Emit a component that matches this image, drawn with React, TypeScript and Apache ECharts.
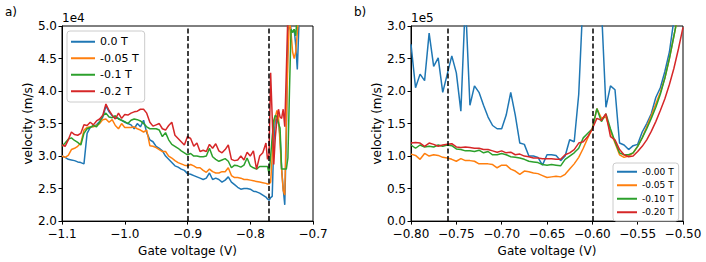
import React, { useEffect, useRef } from 'react';
import * as echarts from 'echarts';

// ---- Panel a): velocity in units of 1e4 m/s ----
const leftVoltage = [
  -1.100, -1.095, -1.090, -1.085, -1.080, -1.075, -1.070, -1.065, -1.060, -1.055,
  -1.050, -1.045, -1.040, -1.035, -1.030, -1.025, -1.020, -1.015, -1.010, -1.005,
  -1.000, -0.995, -0.990, -0.985, -0.980, -0.975, -0.970, -0.965, -0.960, -0.955,
  -0.950, -0.945, -0.940, -0.935, -0.930, -0.925, -0.920, -0.915, -0.910, -0.905,
  -0.900, -0.895, -0.890, -0.885, -0.880, -0.875, -0.870, -0.865, -0.860, -0.855,
  -0.850, -0.845, -0.840, -0.835, -0.830, -0.825, -0.820, -0.815, -0.810, -0.805,
  -0.800, -0.795, -0.790, -0.785, -0.780, -0.775, -0.7725, -0.770,
  -0.7675, -0.765, -0.7625, -0.760, -0.7575, -0.755, -0.7525, -0.750, -0.7475, -0.745,
  -0.7425, -0.740, -0.7375, -0.735, -0.7325, -0.730, -0.7275, -0.725, -0.7225, -0.720, -0.7175,
];
const leftB0 = [
  3.00, 2.98, 2.95, 2.94, 2.93, 2.91, 2.90, 2.88, 3.35, 3.44,
  3.46, 3.48, 3.53, 3.60, 3.77, 3.68, 3.62, 3.58, 3.58, 3.55,
  3.52, 3.50, 3.48, 3.42, 3.50, 3.45, 3.55, 3.36, 3.25, 3.22,
  3.15, 3.12, 3.08, 3.00, 2.95, 2.90, 2.85, 2.83, 2.80, 2.78,
  2.73, 2.72, 2.70, 2.68, 2.66, 2.64, 2.66, 2.74, 2.64, 2.66,
  2.64, 2.60, 2.63, 2.68, 2.60, 2.56, 2.52, 2.49, 2.50, 2.50,
  2.49, 2.46, 2.45, 2.43, 2.40, 2.37, 2.34, 2.32,
  2.36, 2.38, 3.20, 3.58, 3.55, 3.52, 3.30, 2.80, 2.50, 2.25,
  3.30, 4.90, 5.10, 4.95, 4.90, 4.95, 4.70, 4.33, 5.00, 5.50, 5.80,
];
const leftB005 = [
  3.00, 2.98, 3.01, 3.10, 3.12, 3.15, 3.20, 3.40, 3.44, 3.45,
  3.45, 3.47, 3.50, 3.56, 3.57, 3.52, 3.56, 3.47, 3.42, 3.50,
  3.44, 3.44, 3.44, 3.45, 3.42, 3.40, 3.37, 3.40, 3.16, 3.15,
  3.13, 3.10, 3.07, 3.07, 3.00, 2.97, 2.93, 2.90, 2.88, 2.86,
  2.85, 2.87, 2.85, 2.82, 2.82, 2.78, 2.75, 2.80, 2.76, 2.74,
  2.74, 2.76, 2.76, 2.82, 2.70, 2.67, 2.67, 2.66, 2.64, 2.64,
  2.63, 2.62, 2.61, 2.60, 2.59, 2.58, 2.57, 2.57,
  2.60, 3.00, 3.50, 3.60, 3.70, 3.60, 3.20, 2.80, 2.47, 2.40,
  3.50, 4.50, 5.10, 4.90, 4.60, 4.50, 4.60, 4.90, 5.20, 5.50, 5.80,
];
const leftB01 = [
  3.15, 3.20, 3.26, 3.28, 3.24, 3.21, 3.17, 3.35, 3.42, 3.44,
  3.47, 3.45, 3.52, 3.62, 3.66, 3.60, 3.59, 3.62, 3.57, 3.55,
  3.53, 3.50, 3.55, 3.57, 3.56, 3.54, 3.50, 3.45, 3.42, 3.42,
  3.42, 3.40, 3.30, 3.36, 3.25, 3.18, 3.15, 3.12, 3.08, 3.05,
  3.02, 3.04, 3.00, 3.00, 2.99, 2.99, 3.00, 3.12, 2.99, 2.95,
  2.92, 2.94, 2.96, 2.92, 2.82, 2.86, 2.85, 2.83, 2.86, 2.97,
  2.85, 2.82, 2.80, 2.84, 2.84, 2.84, 2.84, 2.73,
  3.00, 3.30, 3.55, 3.63, 3.60, 3.50, 3.43, 2.80, 2.80, 2.80,
  2.80, 2.97, 4.00, 4.95, 4.90, 4.95, 4.85, 5.20, 5.50, 5.80, 6.00,
];
const leftB02 = [
  3.17, 3.15, 3.25, 3.37, 3.33, 3.32, 3.35, 3.48, 3.47, 3.52,
  3.48, 3.54, 3.57, 3.63, 3.80, 3.70, 3.63, 3.57, 3.66, 3.58,
  3.64, 3.63, 3.66, 3.68, 3.69, 3.72, 3.72, 3.66, 3.52, 3.46,
  3.48, 3.50, 3.42, 3.40, 3.47, 3.52, 3.32, 3.27, 3.22, 3.17,
  3.30, 3.27, 3.15, 3.20, 3.07, 3.09, 3.07, 3.18, 3.12, 3.19,
  3.08, 3.05, 3.10, 3.17, 2.95, 2.93, 2.94, 3.00, 2.94, 3.06,
  3.00, 3.08, 2.80, 3.00, 3.05, 3.20, 2.95, 3.02,
  4.28, 3.60, 2.87, 3.30, 3.55, 3.72, 3.60, 3.58, 3.72, 3.45,
  4.30, 5.20, 5.50, 5.40, 5.30, 5.50, 5.60, 5.70, 5.80, 5.90, 6.00,
];
const leftNames = ['0.0 T', '-0.05 T', '-0.1 T', '-0.2 T'];
const leftDashed = [-0.9, -0.77];
const leftXTicks = { min: -1.1, max: -0.7, step: 0.1 };
const leftYTicks = { min: 2.0, max: 5.0, step: 0.5 };

// ---- Panel b): velocity in units of 1e5 m/s ----
const rightVoltage = [
  -0.800, -0.795, -0.790, -0.785, -0.780, -0.775, -0.770, -0.765, -0.760, -0.755,
  -0.750, -0.745, -0.740, -0.735, -0.730, -0.725, -0.720, -0.715, -0.710, -0.705,
  -0.700, -0.695, -0.690, -0.685, -0.680, -0.675, -0.670, -0.665, -0.660, -0.655,
  -0.650, -0.645, -0.640, -0.635, -0.630, -0.625, -0.620, -0.615, -0.610, -0.605,
  -0.600, -0.595, -0.590, -0.585, -0.580, -0.575, -0.570, -0.565, -0.560, -0.555,
  -0.550, -0.545, -0.540, -0.535, -0.530, -0.525, -0.520, -0.515, -0.510, -0.505,
  -0.500,
];
const rightB000 = [
  2.72, 2.05, 2.26, 2.16, 2.89, 2.38, 2.51, 1.98, 2.26, 2.54,
  2.28, 1.69, 3.40, 1.78, 2.08, 1.98, 1.78, 1.60, 1.47, 1.42,
  1.42, 1.63, 1.98, 1.63, 1.20, 1.18, 1.00, 1.00, 0.98, 0.86,
  1.02, 1.02, 1.01, 0.93, 1.00, 1.25, 1.22, 1.95, 3.50, 5.00,
  6.00, 5.00, 3.30, 1.75, 2.08, 2.02, 1.20, 1.17, 1.10, 1.16,
  1.18, 1.37, 1.50, 1.65, 1.90, 2.05, 2.30, 2.60, 3.10, 3.60,
  4.00,
];
const rightB005 = [
  1.03, 1.01, 0.95, 1.04, 1.00, 1.02, 1.01, 0.98, 0.97, 0.95,
  0.92, 0.96, 0.93, 0.93, 0.92, 0.88, 0.88, 0.88, 0.87, 0.82,
  0.86, 0.86, 0.80, 0.77, 0.72, 0.77, 0.76, 0.74, 0.73, 0.70,
  0.67, 0.68, 0.69, 0.68, 0.72, 0.80, 0.88, 0.98, 1.12, 1.28,
  1.42, 1.73, 1.58, 1.60, 1.38, 1.20, 1.02, 0.98, 1.00, 1.05,
  1.15, 1.28, 1.45, 1.62, 1.80, 1.98, 2.20, 2.50, 2.85, 3.20,
  3.50,
];
const rightB010 = [
  1.17, 1.12, 1.17, 1.14, 1.15, 1.14, 1.17, 1.15, 1.17, 1.16,
  1.11, 1.10, 1.08, 1.08, 1.07, 1.09, 1.05, 1.07, 1.02, 1.02,
  1.04, 1.02, 0.99, 0.98, 0.97, 0.95, 0.92, 0.91, 0.90, 0.87,
  0.86, 0.87, 0.86, 0.85, 0.95, 1.00, 1.05, 1.12, 1.28, 1.35,
  1.42, 1.73, 1.53, 1.65, 1.42, 1.22, 1.05, 1.02, 1.02, 1.05,
  1.15, 1.28, 1.42, 1.58, 1.75, 1.95, 2.20, 2.50, 2.85, 3.20,
  3.50,
];
const rightB020 = [
  1.20, 1.21, 1.20, 1.15, 1.20, 1.18, 1.15, 1.17, 1.18, 1.19,
  1.14, 1.13, 1.14, 1.13, 1.12, 1.12, 1.10, 1.10, 1.08, 1.06,
  1.08, 1.05, 1.06, 1.02, 1.03, 1.00, 0.99, 0.97, 0.97, 0.96,
  0.96, 0.96, 0.95, 0.95, 1.02, 1.05, 1.10, 1.20, 1.22, 1.30,
  1.42, 1.58, 1.55, 1.65, 1.30, 1.25, 1.10, 1.02, 0.99, 1.00,
  1.07, 1.15, 1.25, 1.38, 1.53, 1.70, 1.88, 2.10, 2.35, 2.65,
  2.98,
];
const rightNames = ['-0.00 T', '-0.05 T', '-0.10 T', '-0.20 T'];
const rightDashed = [-0.755, -0.6];
const rightXTicks = { min: -0.8, max: -0.5, step: 0.05 };
const rightYTicks = { min: 0.0, max: 3.0, step: 0.5 };

const COLORS = ['#1f77b4', '#ff7f0e', '#2ca02c', '#d62728'];
const FONT = 'DejaVu Sans';

const pairs = (xs: number[], ys: number[]) => xs.map((x, i) => [x, ys[i]]);
const fmt = (d: number) => (v: number) => {
  const s = v.toFixed(d);
  return s.startsWith('-') ? '\u2212' + s.slice(1) : s;
};

function xAxisCfg(gridIndex: number, t: { min: number; max: number; step: number }, dec: number) {
  return {
    type: 'value', gridIndex, min: t.min, max: t.max, interval: t.step,
    name: 'Gate voltage (V)', nameLocation: 'middle', nameGap: 20,
    nameTextStyle: { fontFamily: FONT, fontSize: 12, color: '#000' },
    axisLine: { show: true, onZero: false, lineStyle: { color: '#000', width: 1 } },
    axisTick: { show: true, length: 3.5, lineStyle: { color: '#000', width: 1 } },
    axisLabel: { formatter: fmt(dec), fontFamily: FONT, fontSize: 12, color: '#000', margin: 7, lineHeight: 12 },
    splitLine: { show: false },
  };
}
function yAxisCfg(gridIndex: number, t: { min: number; max: number; step: number }) {
  return {
    type: 'value', gridIndex, min: t.min, max: t.max, interval: t.step,
    name: 'velocity (m/s)', nameLocation: 'middle', nameGap: 28, nameRotate: 90,
    nameTextStyle: { fontFamily: FONT, fontSize: 12, color: '#000' },
    axisLine: { show: true, onZero: false, lineStyle: { color: '#000', width: 1 } },
    axisTick: { show: true, length: 3.5, lineStyle: { color: '#000', width: 1 } },
    axisLabel: { formatter: fmt(1), fontFamily: FONT, fontSize: 12, color: '#000', margin: 5, lineHeight: 11 },
    splitLine: { show: false },
  };
}

function lineSeries(name: string, data: number[][], idx: number, color: string, dashed?: number[]) {
  const s: any = {
    type: 'line', name, data, xAxisIndex: idx, yAxisIndex: idx,
    showSymbol: false, symbol: 'none', clip: true,
    lineStyle: { color, width: 1.5 }, itemStyle: { color },
  };
  if (dashed) {
    s.markLine = {
      silent: true, symbol: ['none', 'none'], label: { show: false },
      lineStyle: { color: '#000', width: 1.5, type: [5, 2.5] },
      data: dashed.map((v) => ({ xAxis: v })),
    };
  }
  return s;
}

export default function App() {
  const ref = useRef<HTMLDivElement>(null);
  useEffect(() => {
    if (!ref.current) return;
    const chart = echarts.init(ref.current, undefined, { renderer: 'svg' });
    const leftData = [leftB0, leftB005, leftB01, leftB02];
    const rightData = [rightB000, rightB005, rightB010, rightB020];
    const series: any[] = [];
    leftData.forEach((ys, i) =>
      series.push(lineSeries(leftNames[i], pairs(leftVoltage, ys), 0, COLORS[i], i === 0 ? leftDashed : undefined)));
    rightData.forEach((ys, i) =>
      series.push(lineSeries(rightNames[i], pairs(rightVoltage, ys), 1, COLORS[i], i === 0 ? rightDashed : undefined)));

    chart.setOption({
      animation: false,
      backgroundColor: '#fff',
      grid: [
        { left: 62, right: 393, top: 26, bottom: 38, show: true, borderColor: '#000', borderWidth: 1, backgroundColor: 'transparent' },
        { left: 411, right: 23, top: 26, bottom: 38, show: true, borderColor: '#000', borderWidth: 1, backgroundColor: 'transparent' },
      ],
      xAxis: [xAxisCfg(0, leftXTicks, 1), xAxisCfg(1, rightXTicks, 2)],
      yAxis: [yAxisCfg(0, leftYTicks), yAxisCfg(1, rightYTicks)],
      legend: [
        {
          data: leftNames, orient: 'vertical', left: 67, top: 31,
          icon: 'rect', itemWidth: 24, itemHeight: 2, itemGap: 3,
          padding: [4, 6, 4, 4], borderColor: '#ccc', borderWidth: 1, borderRadius: 3,
          backgroundColor: 'rgba(255,255,255,0.8)',
          textStyle: { fontFamily: FONT, fontSize: 11, color: '#000', lineHeight: 13.5 },
          selectedMode: false,
        },
        {
          data: rightNames, orient: 'vertical', left: 613, top: 163,
          icon: 'rect', itemWidth: 20, itemHeight: 2, itemGap: 2,
          padding: [3, 5, 3, 4], borderColor: '#ccc', borderWidth: 1, borderRadius: 3,
          backgroundColor: 'rgba(255,255,255,0.8)',
          textStyle: { fontFamily: FONT, fontSize: 9, color: '#000', lineHeight: 11.5 },
          selectedMode: false,
        },
      ],
      graphic: [
        { type: 'text', left: 5, top: 6, style: { text: 'a)', font: `12px "${FONT}"`, fill: '#000' } },
        { type: 'text', left: 354, top: 6, style: { text: 'b)', font: `12px "${FONT}"`, fill: '#000' } },
        { type: 'text', left: 62, top: 12, style: { text: '1e4', font: `12px "${FONT}"`, fill: '#000' } },
        { type: 'text', left: 411, top: 12, style: { text: '1e5', font: `12px "${FONT}"`, fill: '#000' } },
      ],
      series,
    });
    return () => chart.dispose();
  }, []);
  return <div ref={ref} style={{ position: 'fixed', left: 0, top: 0, width: 706, height: 262 }} />;
}
